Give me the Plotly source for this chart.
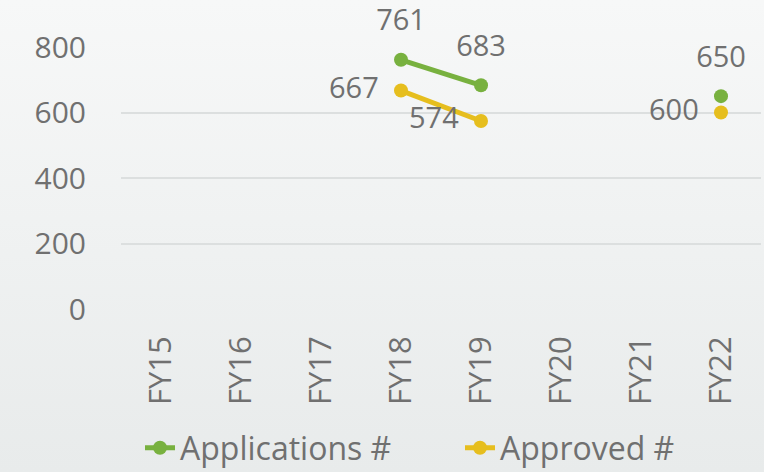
import base64
import plotly.graph_objects as go

categories = ["FY15", "FY16", "FY17", "FY18", "FY19", "FY20", "FY21", "FY22"]
applications = [None, None, None, 761, 683, None, None, 650]
approved = [None, None, None, 667, 574, None, None, 600]
app_pos = ["top center"] * 8
apr_pos = ["middle left"] * 8

W, H = 764, 472
L, R, T, B = 121, 3, 47, 163
pw, ph = W - L - R, H - T - B

FONT = "Open Sans"
GREY = "#707070"
GREEN = "#78b13f"
YELLOW = "#e6be1e"

def fmt(v):
    return "" if v is None else str(v)

svg = ('<svg xmlns="http://www.w3.org/2000/svg" width="100" height="100" preserveAspectRatio="none">'
       '<defs><linearGradient id="g" x1="0" y1="0" x2="0" y2="1">'
       '<stop offset="0" stop-color="#f7f8f8"/><stop offset="1" stop-color="#e8ebeb"/>'
       '</linearGradient></defs><rect width="100" height="100" fill="url(#g)"/></svg>')
src = "data:image/svg+xml;base64," + base64.b64encode(svg.encode()).decode()

fig = go.Figure()
for name, vals, col, pos in [("Applications #", applications, GREEN, app_pos),
                             ("Approved #", approved, YELLOW, apr_pos)]:
    fig.add_trace(go.Scatter(
        x=categories, y=vals, name=name, mode="lines+markers",
        line=dict(color=col, width=5), marker=dict(color=col, size=14),
        cliponaxis=False,
    ))
    fig.add_trace(go.Scatter(
        x=categories, y=vals, name=name, mode="markers+text", showlegend=False,
        marker=dict(color=col, size=34, opacity=0), hoverinfo="skip",
        text=[fmt(v) for v in vals], textposition=pos,
        textfont=dict(family=FONT, size=29, color=GREY), cliponaxis=False,
    ))

fig.update_layout(
    width=W, height=H,
    margin=dict(l=L, r=R, t=T, b=B, pad=0, autoexpand=False),
    paper_bgcolor="#f0f2f2", plot_bgcolor="rgba(0,0,0,0)",
    font=dict(family=FONT, size=28, color=GREY),
    showlegend=True,
    legend=dict(orientation="h", xref="container", yref="container",
                x=140 / W, xanchor="left", y=1 - 448 / H, yanchor="middle",
                font=dict(family=FONT, size=32, color=GREY),
                bgcolor="rgba(0,0,0,0)", itemwidth=30, tracegroupgap=0,
                entrywidth=275, entrywidthmode="pixels"),
    xaxis=dict(type="category", categoryorder="array", categoryarray=categories,
               range=[-0.5, 7.5],
               tickangle=-90, showgrid=False, showline=False, zeroline=False,
               ticks="", ticklabelstandoff=20, automargin=False,
               tickfont=dict(family=FONT, size=31, color=GREY)),
    yaxis=dict(range=[0, 800], tickvals=[0, 200, 400, 600, 800], showgrid=True,
               gridcolor="#dcdfdf", gridwidth=1.5, zeroline=False, showline=False,
               ticks="", ticklabelstandoff=34, automargin=False,
               tickfont=dict(family=FONT, size=30, color=GREY)),
    images=[dict(source=src, xref="paper", yref="paper",
                 x=-L / pw, y=1 + T / ph, sizex=W / pw, sizey=H / ph,
                 xanchor="left", yanchor="top", sizing="stretch", layer="below")],
)

fig.write_html("out.html", config={"displayModeBar": False},
               post_script="document.body.style.margin='0';document.body.style.overflow='hidden';")
